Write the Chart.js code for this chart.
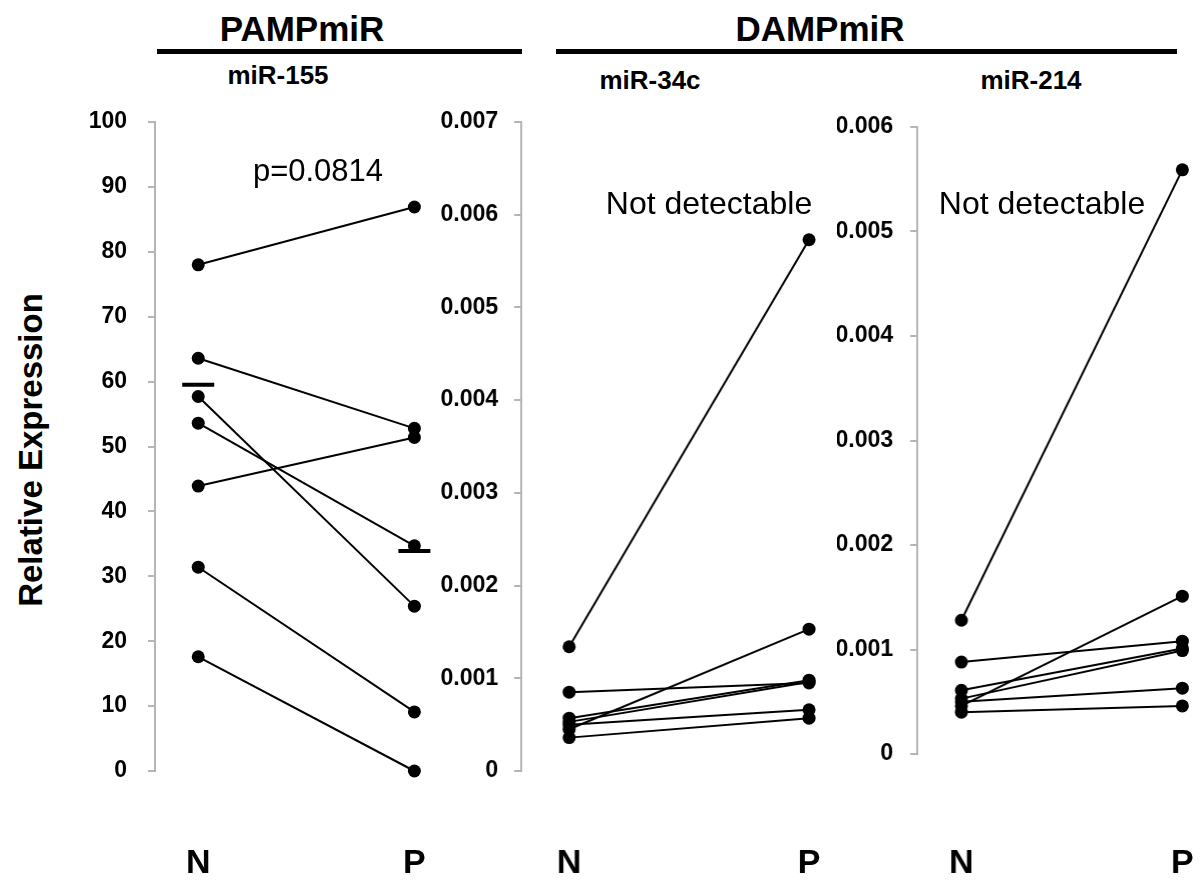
<!DOCTYPE html>
<html>
<head>
<meta charset="utf-8">
<script src="https://cdn.jsdelivr.net/npm/chart.js@4.4.1/dist/chart.umd.min.js"></script>
<style>
  body { margin: 0; background: #fff; width: 1204px; height: 886px; position: relative; overflow: hidden;
         font-family: "Liberation Sans", Arial, sans-serif; }
  .panel { position: absolute; }
  .t { position: absolute; transform: translate(-50%, -50%); line-height: 1; white-space: nowrap; color: #000; }
  .rule { position: absolute; height: 5px; background: #000; }
</style>
</head>
<body>
<div class="t" style="left:302px;top:28px;font-size:35px;font-weight:bold">PAMPmiR</div>
<div class="t" style="left:820px;top:28px;font-size:35px;font-weight:bold">DAMPmiR</div>
<div class="rule" style="left:157px;top:49px;width:365px"></div>
<div class="rule" style="left:556px;top:49px;width:621px"></div>
<div class="t" style="left:278px;top:75px;font-size:26px;font-weight:bold">miR-155</div>
<div class="t" style="left:650px;top:80px;font-size:26px;font-weight:bold">miR-34c</div>
<div class="t" style="left:1031px;top:80px;font-size:26px;font-weight:bold">miR-214</div>
<div class="t" style="left:30px;top:450px;font-size:33px;font-weight:bold;transform:translate(-50%,-50%) rotate(-90deg)">Relative Expression</div>

<canvas id="c155" class="panel"></canvas>
<canvas id="c34c" class="panel"></canvas>
<canvas id="c214" class="panel"></canvas>

<div class="t" style="left:318px;top:170px;font-size:31px">p=0.0814</div>
<div class="t" style="left:709px;top:203px;font-size:32px">Not detectable</div>
<div class="t" style="left:1042px;top:203px;font-size:32px">Not detectable</div>

<script>
// groups on the x axis
const groups = ['N', 'P'];

// miR-155 (paired N -> P)
const mir155N = [78.0, 63.6, 57.7, 53.6, 43.9, 31.4, 17.6];
const mir155P = [86.9, 52.8, 25.4, 34.7, 51.4, 9.1, 0];
const mir155Mean = [59.5, 33.9];

// miR-34c
const mir34cN = [0.00134, 0.00085, 0.00057, 0.00053, 0.00045, 0.00050, 0.00036];
const mir34cP = [0.00573, 0.00095, 0.00098, 0.00096, 0.00153, 0.00066, 0.00057];

// miR-214
const mir214N = [0.00128, 0.00088, 0.00061, 0.00053, 0.00046, 0.00050, 0.00040];
const mir214P = [0.00559, 0.00108, 0.00101, 0.00099, 0.00151, 0.00063, 0.00046];

// y tick labels
const ticks155 = [0, 10, 20, 30, 40, 50, 60, 70, 80, 90, 100];
const ticks34c = [0, 0.001, 0.002, 0.003, 0.004, 0.005, 0.006, 0.007];
const ticks214 = [0, 0.001, 0.002, 0.003, 0.004, 0.005, 0.006];

const FONT = '"Liberation Sans", Arial, sans-serif';
const AXIS = '#b5b5b5';

function pairSets(nVals, pVals) {
  return nVals.map((n, i) => ({
    data: [{ x: 0, y: n }, { x: 1, y: pVals[i] }],
    borderColor: '#000',
    borderWidth: 2,
    pointRadius: 6.5,
    pointBackgroundColor: '#000',
    pointBorderWidth: 0,
    clip: false
  }));
}

function makePanel(id, datasets, yTicks, g) {
  const yW = 80, padTop = 20, xH = 130;
  const cv = document.getElementById(id);
  cv.width = yW + g.plotW;
  cv.height = padTop + g.plotH + xH;

  const fmt = v => (v === 0 ? '0' : (v < 1 ? v.toFixed(3) : String(v)));

  const chart = new Chart(cv, {
    type: 'line',
    data: { datasets },
    options: {
      responsive: false,
      maintainAspectRatio: false,
      animation: false,
      layout: { padding: { top: padTop, left: 0, right: 0, bottom: 0 } },
      plugins: { legend: { display: false }, tooltip: { enabled: false } },
      scales: {
        x: {
          type: 'linear', min: -0.2, max: g.xMax,
          grid: { display: false, drawTicks: false },
          border: { display: false },
          afterBuildTicks: s => { s.ticks = groups.map((_, i) => ({ value: i })); },
          ticks: {
            padding: g.xPad, maxRotation: 0, autoSkip: false, color: '#000',
            font: { family: FONT, size: 34, weight: 'bold' },
            callback: v => groups[v]
          },
          afterFit: s => { s.height = xH; s.paddingLeft = 0; s.paddingRight = 0; }
        },
        y: {
          min: 0, max: yTicks[yTicks.length - 1],
          afterBuildTicks: s => { s.ticks = yTicks.map(v => ({ value: v })); },
          grid: { drawOnChartArea: false, drawTicks: true, tickLength: 7, color: AXIS, lineWidth: 2 },
          border: { display: true, color: AXIS, width: 2 },
          ticks: {
            padding: g.yPad, color: '#000',
            font: { family: FONT, size: 23, weight: 'bold' },
            callback: fmt
          },
          afterFit: s => { s.width = yW; s.paddingTop = 0; s.paddingBottom = 0; }
        }
      }
    }
  });

  // make the plot area the intended size, then place the canvas so the axis lands where it should
  const ca = chart.chartArea;
  const dw = g.plotW - (ca.right - ca.left);
  const dh = g.plotH - (ca.bottom - ca.top);
  if (Math.abs(dw) > 0.5 || Math.abs(dh) > 0.5) chart.resize(cv.width + dw, cv.height + dh);
  const ca2 = chart.chartArea;
  cv.style.left = (g.axisX - ca2.left) + 'px';
  cv.style.top = (g.top - ca2.top) + 'px';
  return chart;
}

const meanSet = {
  data: [{ x: 0, y: mir155Mean[0] }, { x: 1, y: mir155Mean[1] }],
  showLine: false,
  pointStyle: 'line',
  pointRadius: 16,
  pointBorderWidth: 4,
  pointBorderColor: '#000',
  borderColor: '#000',
  clip: false
};

makePanel('c155', pairSets(mir155N, mir155P).concat([meanSet]), ticks155,
  { axisX: 155, top: 122, plotH: 649, plotW: 281, xMax: 1.1, xPad: 72, yPad: 21 });
makePanel('c34c', pairSets(mir34cN, mir34cP), ticks34c,
  { axisX: 521, top: 122, plotH: 649, plotW: 311, xMax: 1.1, xPad: 72, yPad: 16 });
makePanel('c214', pairSets(mir214N, mir214P), ticks214,
  { axisX: 917, top: 127, plotH: 627, plotW: 282, xMax: 1.08, xPad: 89, yPad: 17 });
</script>
</body>
</html>
